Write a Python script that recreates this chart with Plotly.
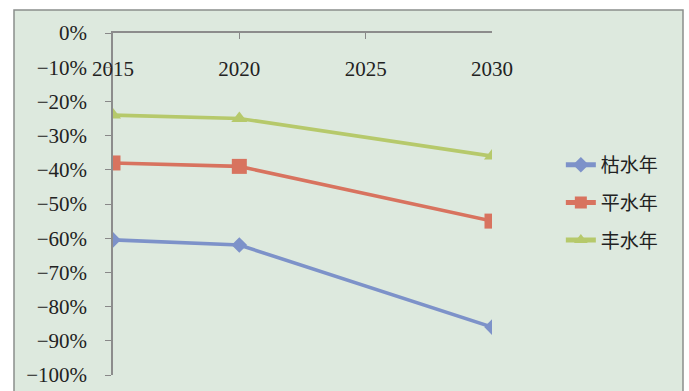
import plotly.graph_objects as go

years = [2015, 2020, 2030]
series_names = ["枯水年", "平水年", "丰水年"]
dry = [-60.5, -62, -86]
normal = [-38, -39, -55]
wet = [-24, -25, -36]

x_ticks = [2015, 2020, 2025, 2030]
y_ticks = [0, -10, -20, -30, -40, -50, -60, -70, -80, -90, -100]
y_labels = ["0%", "−10%", "−20%", "−30%", "−40%", "−50%", "−60%", "−70%", "−80%", "−90%", "−100%"]

colors = ["#7d92c9", "#d8735f", "#b6c96b"]
symbols = ["diamond", "square", "triangle-up"]
sizes = [12, 15, 14]

fig = go.Figure()
for i, (name, vals) in enumerate(zip(series_names, [dry, normal, wet])):
    fig.add_trace(go.Scatter(
        x=years, y=vals, name=name, mode="lines+markers",
        line=dict(color=colors[i], width=3.6),
        marker=dict(symbol=symbols[i], size=sizes[i], color=colors[i]),
        legendgroup=name,
    ))

fig.add_shape(type="rect", xref="paper", yref="paper",
              x0=(14 - 113) / 379, x1=(683 - 113) / 379,
              y0=(375 - 400) / 342, y1=(375 - 10) / 342,
              fillcolor="#dde9de", line=dict(color="#8a8f8c", width=1.5),
              layer="below")

serif = "Liberation Serif"
fig.update_layout(
    width=689, height=391,
    margin=dict(l=113, r=197, t=33, b=16, autoexpand=False),
    paper_bgcolor="white",
    plot_bgcolor="rgba(0,0,0,0)",
    font=dict(family=serif, size=20, color="#222"),
    showlegend=True,
    legend=dict(
        xref="container", yref="container",
        x=0.814, y=0.627, xanchor="left", yanchor="top",
        font=dict(family="Noto Sans CJK SC", size=19, color="#222"),
        traceorder="grouped", tracegroupgap=10,
        bgcolor="rgba(0,0,0,0)", itemsizing="constant",
    ),
    xaxis=dict(
        range=[2015, 2030], side="top", automargin=False,
        tickvals=x_ticks, ticktext=[str(v) for v in x_ticks],
        ticks="inside", ticklen=6, tickcolor="#888",
        ticklabelposition="inside", ticklabeloverflow="allow",
        ticklabelstandoff=24,
        showline=True, linecolor="#8c8c8c", linewidth=1.5,
        showgrid=False, zeroline=False,
        tickfont=dict(family=serif, size=21, color="#222"),
    ),
    yaxis=dict(
        range=[-100, 0], automargin=False,
        tickvals=y_ticks, ticktext=y_labels,
        ticks="outside", ticklen=6, tickcolor="#888",
        ticklabelstandoff=14,
        showline=True, linecolor="#8c8c8c", linewidth=1.5,
        showgrid=False, zeroline=False,
        tickfont=dict(family=serif, size=21, color="#222"),
    ),
)

fig.write_html("out.html")
